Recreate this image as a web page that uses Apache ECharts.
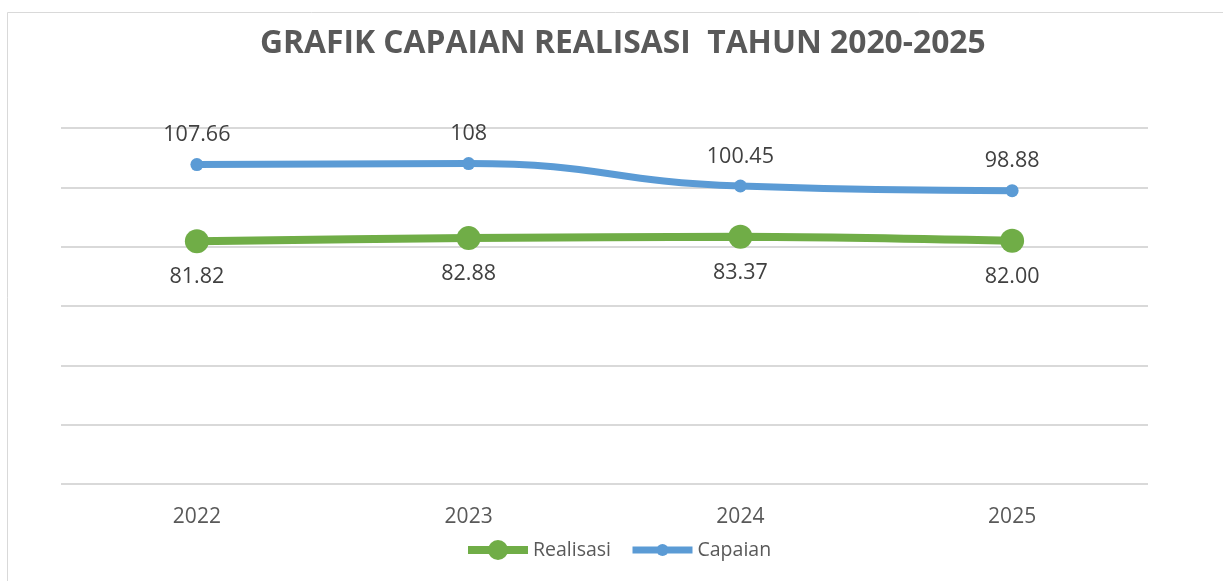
<!DOCTYPE html>
<html><head><meta charset="utf-8">
<script src="https://cdn.jsdelivr.net/npm/echarts@6/dist/echarts.min.js"></script>
<style>html,body{margin:0;padding:0;background:#fff;}#c{width:1223px;height:581px;}</style>
</head><body><div id="c"></div>
<script>
const categories = ['2022', '2023', '2024', '2025'];
const realisasi = [81.82, 82.88, 83.37, 82.00];
const capaian = [107.66, 108, 100.45, 98.88];
const realisasiLabels = ['81.82', '82.88', '83.37', '82.00'];
const capaianLabels = ['107.66', '108', '100.45', '98.88'];
const yTicks = [0, 20, 40, 60, 80, 100, 120];

const FONT = '"Open Sans", sans-serif';
const chart = echarts.init(document.getElementById('c'));
const legendText = { fontFamily: FONT, fontSize: 19.5, color: '#595959' };
chart.setOption({
  animation: false,
  backgroundColor: '#fff',
  graphic: [{
    type: 'rect', silent: true,
    shape: { x: 7.5, y: 12.5, width: 1300, height: 700 },
    style: { fill: 'none', stroke: '#d9d9d9', lineWidth: 1 }
  }],
  title: {
    text: 'GRAFIK CAPAIAN REALISASI  TAHUN 2020-2025',
    left: 255, top: 23,
    textStyle: { fontFamily: FONT, fontWeight: 'bold', fontSize: 31.8, color: '#595959' }
  },
  legend: [
    {
      data: ['Realisasi'], left: 464, top: 540, padding: 0,
      itemWidth: 60, itemHeight: 25, itemGap: 3,
      lineStyle: { width: 8 },
      textStyle: legendText
    },
    {
      data: ['Capaian'], left: 629, top: 540, padding: 0,
      itemWidth: 60, itemHeight: 15, itemGap: 3,
      lineStyle: { width: 7 },
      textStyle: legendText
    }
  ],
  grid: { left: 61, right: 75, top: 128, bottom: 97 },
  xAxis: {
    type: 'category', data: categories, boundaryGap: true,
    axisLine: { show: false }, axisTick: { show: false },
    axisLabel: { fontFamily: FONT, fontSize: 21, color: '#595959', margin: 23 }
  },
  yAxis: {
    type: 'value', min: yTicks[0], max: yTicks[yTicks.length - 1], interval: 20,
    axisLabel: { show: false }, axisLine: { show: false }, axisTick: { show: false },
    splitLine: { lineStyle: { color: '#d9d9d9', width: 2 } }
  },
  series: [
    {
      name: 'Realisasi', type: 'line', data: realisasi, smooth: 0.3,
      symbol: 'circle', symbolSize: 24,
      lineStyle: { color: '#70AD47', width: 8 },
      itemStyle: { color: '#70AD47' },
      label: {
        show: true, position: 'bottom', distance: 13,
        formatter: p => realisasiLabels[p.dataIndex],
        fontFamily: FONT, fontSize: 21.5, color: '#404040'
      }
    },
    {
      name: 'Capaian', type: 'line', data: capaian, smooth: 0.5,
      symbol: 'circle', symbolSize: 13,
      lineStyle: { color: '#5B9BD5', width: 7 },
      itemStyle: { color: '#5B9BD5' },
      label: {
        show: true, position: 'top', distance: 12,
        formatter: p => capaianLabels[p.dataIndex],
        fontFamily: FONT, fontSize: 21.5, color: '#404040'
      }
    }
  ]
});
</script></body></html>
